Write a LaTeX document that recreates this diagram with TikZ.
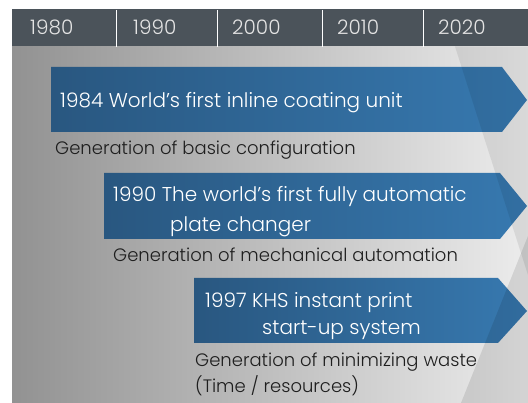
\documentclass[tikz,border=0pt]{standalone}
\usepackage{fontspec}
\setmainfont{Poppins}[UprightFont={* Light}]
\definecolor{barbg}{HTML}{4B535A}
\definecolor{yeartext}{HTML}{E4E4E4}
\definecolor{panelL}{HTML}{929292}
\definecolor{panelR}{HTML}{ECECEC}
\definecolor{arrowL}{HTML}{295780}
\definecolor{arrowR}{HTML}{3779B0}
\definecolor{labeltext}{HTML}{1E1E1E}
\newcommand{\txtfont}{\fontsize{20}{24}\selectfont}
\newcommand{\lblfont}{\fontsize{18}{22}\selectfont}
\tikzset{
  yearlbl/.style={anchor=base west, inner sep=0pt, text=yeartext, font=\txtfont},
  arrowtxt/.style={anchor=base west, inner sep=0pt, text=white, font=\txtfont},
  genlbl/.style={anchor=base west, inner sep=0pt, text=labeltext, font=\lblfont},
  banner/.style={left color=arrowL, right color=arrowR, draw=none},
  divider/.style={draw=white, line width=0.9pt},
  slice/.style={fill=black, draw=none},
}
\begin{document}
\begin{tikzpicture}[x=1pt,y=-1pt]
\useasboundingbox (0,0) rectangle (528,403);
\fill[white] (0,0) rectangle (528,403);
% panel
\shade[left color=panelL, right color=panelR] (12,46) rectangle (528,403);
% top bar
\fill[barbg] (12,9.5) rectangle (528,46.5);
\draw[divider] (116,10) -- (116,47);
\draw[divider] (217,10) -- (217,47);
\draw[divider] (322,10) -- (322,47);
\draw[divider] (423,10) -- (423,47);
\node[yearlbl] (y1980) at (30,35) {1980};
\node[yearlbl] (y1990) at (133,35) {1990};
\node[yearlbl] (y2000) at (232,35) {2000};
\node[yearlbl] (y2010) at (337,35) {2010};
\node[yearlbl] (y2020) at (438,35) {2020};
% banners
\shade[banner] (51,67) -- (502,67) -- (527,100) -- (502,132) -- (51,132) -- cycle;
\shade[banner] (104,173) -- (500,173) -- (527,206) -- (500,239) -- (104,239) -- cycle;
\shade[banner] (194,278) -- (498,278) -- (527,311) -- (498,343) -- (194,343) -- cycle;
% translucent slices
\fill[slice, opacity=0.08] (455,46.5) -- (528,46.5) -- (528,275) -- cycle;
\fill[slice, opacity=0.10] (528,236) -- (528,403) -- (461,403) -- cycle;
% banner texts
\node[arrowtxt] (t1) at (60,108) {1984 World’s first inline coating unit};
\node[arrowtxt] (t2a) at (113,202) {1990 The world’s first fully automatic};
\node[arrowtxt] (t2b) at (170,232) {plate changer};
\node[arrowtxt] (t3a) at (205,308) {1997 KHS instant print};
\node[arrowtxt] (t3b) at (262,335) {start-up system};
% generation labels
\node[genlbl] (g1) at (55,155) {Generation of basic configuration};
\node[genlbl] (g2) at (113,262) {Generation of mechanical automation};
\node[genlbl] (g3) at (195,367) {Generation of minimizing waste};
\node[genlbl] (g3b) at (195,393) {(Time / resources)};
\end{tikzpicture}
\end{document}
